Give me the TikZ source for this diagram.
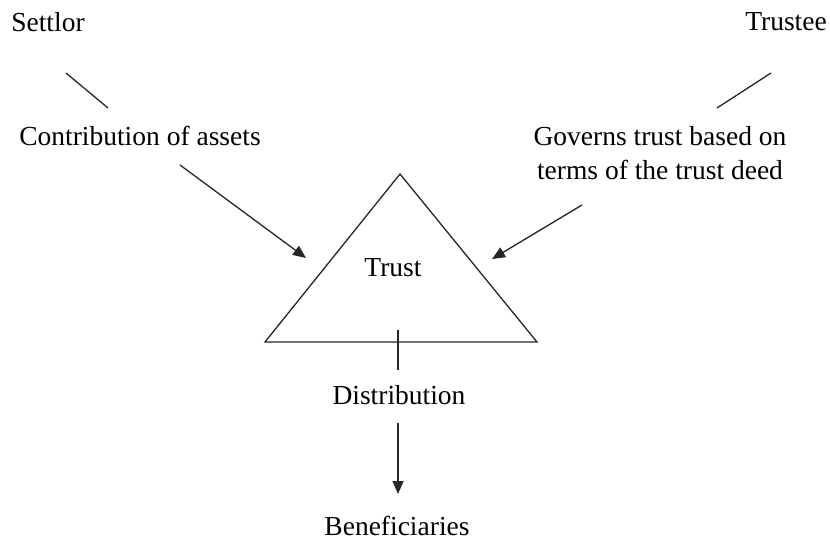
\documentclass[tikz,border=0pt]{standalone}
\usepackage{fontspec}
\setmainfont{Liberation Serif}
\usetikzlibrary{arrows.meta}
\begin{document}
\begin{tikzpicture}[x=1pt,y=-1pt,
  lbl/.style={font=\fontsize{27.5}{34}\selectfont, inner sep=0pt, align=center},
  ln/.style={line width=1.3pt, draw=black!85},
  arr/.style={ln, -{Triangle[length=13pt,width=11pt]}}]
\useasboundingbox (0,0) rectangle (830,540);
\node[lbl] (settlor) at (48,22) {Settlor};
\node[lbl] (trustee) at (786,22) {Trustee};
\node[lbl] (contrib) at (140,136) {Contribution of assets};
\node[lbl] (governs) at (660,153) {Governs trust based on\\terms of the trust deed};
\coordinate (A) at (400,174);
\coordinate (B) at (265,342);
\coordinate (C) at (537,342);
\draw[ln] (A) -- (B) -- (C) -- cycle;
\node[lbl] (trust) at (393,268) {Trust};
\node[lbl] (distr) at (399,395) {Distribution};
\node[lbl] (benef) at (397,526) {Beneficiaries};
\coordinate (s1) at (66,73); \coordinate (s2) at (108,108);
\draw[ln] (s1) -- (s2);
\coordinate (t1) at (771,73); \coordinate (t2) at (717,108);
\draw[ln] (t1) -- (t2);
\coordinate (c1) at (180,165); \coordinate (c2) at (306,258);
\draw[arr] (c1) -- (c2);
\coordinate (g1) at (582,205); \coordinate (g2) at (492,259);
\draw[arr] (g1) -- (g2);
\coordinate (d0) at (398,330); \coordinate (d1) at (398,370);
\draw[ln] (d0) -- (d1);
\coordinate (e1) at (398,423); \coordinate (e2) at (398,494);
\draw[arr] (e1) -- (e2);
\end{tikzpicture}
\end{document}
